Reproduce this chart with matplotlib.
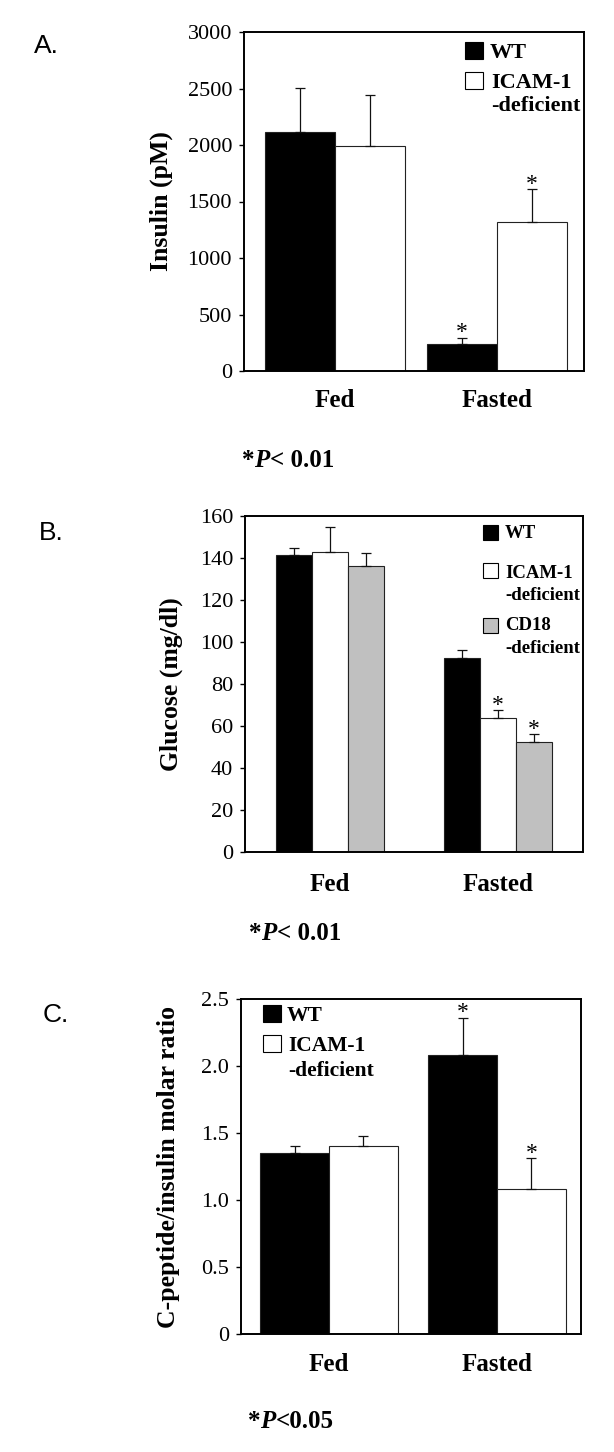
import matplotlib
matplotlib.use('Agg')
import matplotlib.pyplot as plt
from matplotlib.patches import Rectangle
import numpy as np

W, H = 614, 1452
DPI = 100
SERIF = 'Liberation Serif'
SANS = 'Liberation Sans'
plt.rcParams['font.family'] = [SERIF, 'DejaVu Serif']

groups = ['Fed', 'Fasted']

# Panel A: insulin (pM)
a_wt = [2115, 235]
a_wt_err = [390, 60]
a_icam = [1995, 1320]
a_icam_err = [450, 290]
a_wt_sig = [False, True]
a_icam_sig = [False, True]
a_ticks = [0, 500, 1000, 1500, 2000, 2500, 3000]
a_ticklabels = ['0', '500', '1000', '1500', '2000', '2500', '3000']

# Panel B: glucose (mg/dl)
b_wt = [141.5, 92.2]
b_wt_err = [3.5, 4.0]
b_icam = [142.8, 64.0]
b_icam_err = [12.0, 3.5]
b_cd18 = [136.3, 52.2]
b_cd18_err = [6.0, 3.9]
b_wt_sig = [False, False]
b_icam_sig = [False, True]
b_cd18_sig = [False, True]
b_ticks = [0, 20, 40, 60, 80, 100, 120, 140, 160]
b_ticklabels = ['0', '20', '40', '60', '80', '100', '120', '140', '160']

# Panel C: C-peptide / insulin molar ratio
c_wt = [1.35, 2.08]
c_wt_err = [0.05, 0.28]
c_icam = [1.40, 1.08]
c_icam_err = [0.08, 0.23]
c_wt_sig = [False, True]
c_icam_sig = [False, True]
c_ticks = [0, 0.5, 1.0, 1.5, 2.0, 2.5]
c_ticklabels = ['0', '0.5', '1.0', '1.5', '2.0', '2.5']

BLACK = '#000000'
WHITE = '#ffffff'
GRAY = '#c0c0c0'

fig = plt.figure(figsize=(W / DPI, H / DPI), dpi=DPI)


def fig_rect(x0, y0, x1, y1):
    return [x0 / W, 1 - y1 / H, (x1 - x0) / W, (y1 - y0) / H]


def ftext(x, y, s, **kw):
    kw.setdefault('ha', 'left')
    kw.setdefault('va', 'baseline')
    return fig.text(x / W, 1 - y / H, s, **kw)


def fsquare(x0, y0, x1, y1, fc):
    fig.add_artist(Rectangle((x0 / W, 1 - y1 / H), (x1 - x0) / W, (y1 - y0) / H,
                             transform=fig.transFigure, facecolor=fc,
                             edgecolor='black', linewidth=0.8))


def panel(px, series, errs, colors, sigs, width, xlim, ylim, ticks, ticklabels,
          ylabel, ylab_x, xpad):
    x0, y0, x1, y1 = px
    ax = fig.add_axes(fig_rect(x0, y0, x1, y1))
    x = np.arange(len(groups))
    n = len(series)
    for i, (vals, err, col, sig) in enumerate(zip(series, errs, colors, sigs)):
        pos = x + (i - (n - 1) / 2) * width
        ax.bar(pos, vals, width, color=col, edgecolor='#222222', linewidth=0.8, zorder=2)
        ax.errorbar(pos, vals, yerr=[np.zeros(len(vals)), err], fmt='none',
                    ecolor='#111111', elinewidth=0.9, capsize=3.8, capthick=0.9, zorder=3)
        for p, v, e, flag in zip(pos, vals, err, sig):
            if flag:
                ax.annotate('*', (p, v + e), xytext=(0, -4), textcoords='offset points',
                            ha='center', va='bottom', fontsize=17, family=SERIF,
                            annotation_clip=False, zorder=4)
    ax.set_xlim(*xlim)
    ax.set_ylim(*ylim)
    ax.set_yticks(ticks)
    ax.set_yticklabels(ticklabels)
    ax.set_xticks(x)
    ax.set_xticklabels(groups, fontweight='bold', fontsize=18)
    ax.tick_params(axis='y', direction='out', length=3.6, width=1, labelsize=16, pad=5)
    ax.tick_params(axis='x', length=0, pad=xpad)
    for s in ax.spines.values():
        s.set_linewidth(1.4)
    ax.set_ylabel(ylabel, fontweight='bold', fontsize=18.5, va='center')
    ax.yaxis.set_label_coords((ylab_x - x0) / (x1 - x0), 0.5)
    return ax


def footnote(x, y, tail, fs=18):
    r = fig.canvas.get_renderer()
    t1 = ftext(x, y, '*', fontsize=fs, fontweight='bold')
    bb = t1.get_window_extent(r)
    t2 = fig.text(bb.x1 / W, 1 - y / H, 'P', fontsize=fs, fontweight='bold',
                  fontstyle='italic', ha='left', va='baseline')
    bb2 = t2.get_window_extent(r)
    fig.text(bb2.x1 / W, 1 - y / H, tail, fontsize=fs, fontweight='bold',
             ha='left', va='baseline')


# ---------------- Panel A ----------------
panel((244, 32, 584, 371), [a_wt, a_icam], [a_wt_err, a_icam_err], [BLACK, WHITE],
      [a_wt_sig, a_icam_sig], 0.432, (-0.562, 1.537), (0, 3000), a_ticks, a_ticklabels,
      'Insulin (pM)', 161, 13)
ftext(34, 53, 'A.', fontsize=19, family=SANS)
fsquare(465, 42, 483, 59, BLACK)
ftext(490, 58, 'WT', fontsize=16, fontweight='bold')
fsquare(465, 72, 483, 89, WHITE)
ftext(491, 88, 'ICAM-1', fontsize=16, fontweight='bold')
ftext(491, 111, '-deficient', fontsize=16, fontweight='bold')
footnote(242, 467, '< 0.01')

# ---------------- Panel B ----------------
panel((245, 516, 583, 852), [b_wt, b_icam, b_cd18], [b_wt_err, b_icam_err, b_cd18_err],
      [BLACK, WHITE, GRAY], [b_wt_sig, b_icam_sig, b_cd18_sig], 0.214, (-0.506, 1.506),
      (0, 160), b_ticks, b_ticklabels, 'Glucose (mg/dl)', 171, 15)
ftext(39, 540, 'B.', fontsize=19, family=SANS)
fsquare(483, 525, 498, 540, BLACK)
ftext(505, 538, 'WT', fontsize=13.5, fontweight='bold')
fsquare(483, 563, 498, 578, WHITE)
ftext(505, 578, 'ICAM-1', fontsize=13.5, fontweight='bold')
ftext(505, 600, '-deficient', fontsize=13.5, fontweight='bold')
fsquare(483, 618, 498, 633, GRAY)
ftext(505, 630, 'CD18', fontsize=13.5, fontweight='bold')
ftext(505, 653, '-deficient', fontsize=13.5, fontweight='bold')
footnote(249, 940, '< 0.01')

# ---------------- Panel C ----------------
panel((241, 999, 581, 1334), [c_wt, c_icam], [c_wt_err, c_icam_err], [BLACK, WHITE],
      [c_wt_sig, c_icam_sig], 0.41, (-0.524, 1.5), (0, 2.5), c_ticks, c_ticklabels,
      'C-peptide/insulin molar ratio', 168, 13.5)
ftext(43, 1022, 'C.', fontsize=19, family=SANS)
fsquare(263, 1005, 281, 1022, BLACK)
ftext(287, 1021, 'WT', fontsize=15.5, fontweight='bold')
fsquare(263, 1035, 281, 1052, WHITE)
ftext(288, 1051, 'ICAM-1', fontsize=15.5, fontweight='bold')
ftext(288, 1076, '-deficient', fontsize=15.5, fontweight='bold')
footnote(248, 1428, '<0.05')

fig.savefig('out.png', dpi=DPI)
